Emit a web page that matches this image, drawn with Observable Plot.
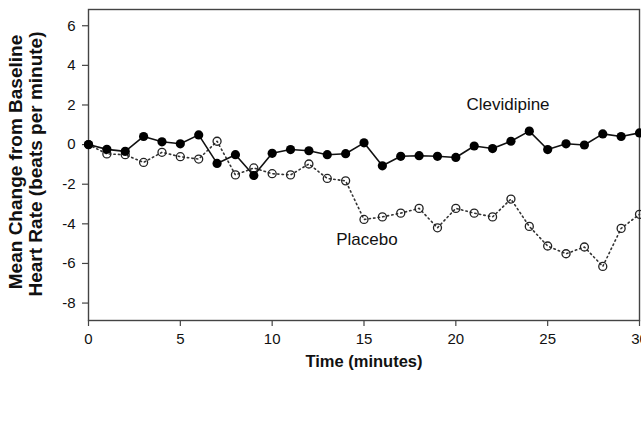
<!DOCTYPE html>
<html>
<head>
<meta charset="utf-8">
<script src="https://cdn.jsdelivr.net/npm/d3@7"></script>
<script src="https://cdn.jsdelivr.net/npm/@observablehq/plot@0.6"></script>
<style>
  html, body { margin: 0; padding: 0; background: white; }
  #chart { width: 641px; height: 433px; overflow: hidden; }
</style>
</head>
<body>
<div id="chart"></div>
<script>
// Time points (minutes)
const minutes = [0,1,2,3,4,5,6,7,8,9,10,11,12,13,14,15,16,17,18,19,20,21,22,23,24,25,26,27,28,29,30];
// Mean change from baseline heart rate (beats per minute)
const clevidipine = [0,-0.24,-0.34,0.41,0.14,0.04,0.49,-0.95,-0.51,-1.56,-0.44,-0.25,-0.31,-0.51,-0.46,0.09,-1.07,-0.59,-0.56,-0.59,-0.65,-0.07,-0.2,0.17,0.68,-0.25,0.04,-0.02,0.54,0.41,0.59];
const placebo = [0,-0.47,-0.51,-0.9,-0.39,-0.61,-0.73,0.17,-1.53,-1.18,-1.47,-1.53,-0.98,-1.71,-1.83,-3.78,-3.65,-3.46,-3.22,-4.2,-3.22,-3.46,-3.65,-2.75,-4.13,-5.12,-5.51,-5.17,-6.15,-4.23,-3.52];
// Tick labels
const xTicks = [0,5,10,15,20,25,30];
const yTicks = [-8,-6,-4,-2,0,2,4,6];
// Series labels
const seriesLabels = [
  {name: "Clevidipine", t: 22.84, v: 2.02},
  {name: "Placebo", t: 15.16, v: -4.8}
];
const xTitle = "Time (minutes)";
const yTitle1 = "Mean Change from Baseline";
const yTitle2 = "Heart Rate (beats per minute)";

const clevData = minutes.map((t, i) => ({t, v: clevidipine[i]}));
const placData = minutes.map((t, i) => ({t, v: placebo[i]}));

const chart = Plot.plot({
  width: 641,
  height: 433,
  marginLeft: 88,
  marginRight: 2,
  marginTop: 9,
  marginBottom: 113,
  style: {fontFamily: "'Liberation Sans', Arial, sans-serif", fontSize: "15px", color: "#111", background: "white"},
  x: {domain: [0, 30]},
  y: {domain: [-8.88, 6.82]},
  marks: [
    Plot.frame({stroke: "#444", strokeWidth: 1.4}),
    Plot.axisX({ticks: xTicks, tickSize: 6, tickPadding: 7, label: null, stroke: "#444", strokeWidth: 1.2, fontSize: 15, tickFormat: d => String(d)}),
    Plot.axisY({ticks: yTicks, tickSize: 6, tickPadding: 7, label: null, stroke: "#444", strokeWidth: 1.2, fontSize: 15, tickFormat: d => String(d)}),
    Plot.line(placData, {x: "t", y: "v", stroke: "#333", strokeWidth: 1.6, strokeDasharray: "1.4,3.2"}),
    Plot.line(clevData, {x: "t", y: "v", stroke: "#111", strokeWidth: 1.6}),
    Plot.dot(placData, {x: "t", y: "v", r: 4, stroke: "#222", strokeWidth: 1.3, fill: "none"}),
    Plot.dot(clevData, {x: "t", y: "v", r: 4.6, fill: "#000", stroke: "none"}),
    Plot.text(seriesLabels, {x: "t", y: "v", text: "name", fontSize: 17, fill: "#111"}),
    Plot.text([xTitle], {frameAnchor: "bottom", dy: 46, fontSize: 16.5, fontWeight: "bold", fill: "#111"}),
    Plot.text([yTitle1], {frameAnchor: "left", textAnchor: "middle", dx: -73, dy: -3, rotate: -90, fontSize: 19, fontWeight: "bold", fill: "#111"}),
    Plot.text([yTitle2], {frameAnchor: "left", textAnchor: "middle", dx: -53, dy: -1, rotate: -90, fontSize: 19, fontWeight: "bold", fill: "#111"})
  ]
});
document.getElementById("chart").appendChild(chart);
</script>
</body>
</html>
